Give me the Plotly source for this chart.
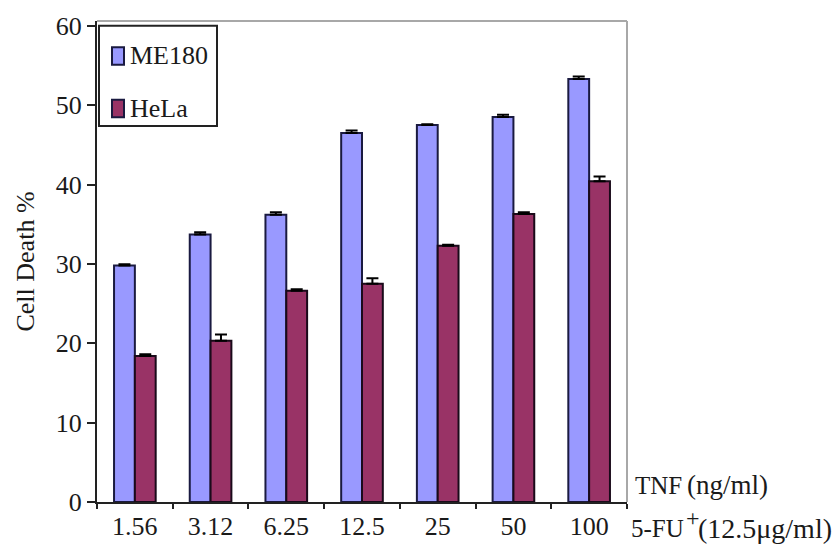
import plotly.graph_objects as go

categories = ["1.56", "3.12", "6.25", "12.5", "25", "50", "100"]
me180 = [29.8, 33.7, 36.2, 46.5, 47.5, 48.5, 53.3]
me180_err = [0.15, 0.3, 0.3, 0.3, 0.1, 0.3, 0.3]
hela = [18.4, 20.3, 26.6, 27.5, 32.3, 36.3, 40.4]
hela_err = [0.2, 0.8, 0.2, 0.7, 0.1, 0.2, 0.6]
y_ticks = [0, 10, 20, 30, 40, 50, 60]
series_names = ["ME180", "HeLa"]
series_colors = ["#9999FF", "#993366"]

FONT = "Liberation Serif, Times New Roman, serif"
TXT = "#1a1a1a"

fig = go.Figure()
fig.add_trace(go.Bar(
    name=series_names[0], x=categories, y=me180,
    marker=dict(color=series_colors[0], line=dict(color="#1a1a40", width=2)),
    error_y=dict(type="data", array=me180_err, arrayminus=[0]*7, symmetric=False,
                 color="black", thickness=2, width=6),
))
fig.add_trace(go.Bar(
    name=series_names[1], x=categories, y=hela,
    marker=dict(color=series_colors[1], line=dict(color="#1a0a1a", width=2)),
    error_y=dict(type="data", array=hela_err, arrayminus=[0]*7, symmetric=False,
                 color="black", thickness=2, width=6),
))

fig.update_layout(
    width=840, height=553,
    margin=dict(l=97, r=213, t=17, b=41),
    paper_bgcolor="white", plot_bgcolor="white",
    font=dict(family=FONT, size=24, color=TXT),
    barmode="group", bargap=0.45, bargroupgap=0,
    showlegend=False,
    xaxis=dict(type="category", showline=True, linecolor="#222", linewidth=2,
               ticks="outside", tickson="boundaries", ticklen=5, tickwidth=2,
               tickcolor="#222", showgrid=False,
               tickfont=dict(family=FONT, size=26, color=TXT)),
    yaxis=dict(range=[0, 60.6], tickvals=y_ticks, showline=True, linecolor="#222",
               linewidth=2, ticks="outside", ticklen=8, tickwidth=2, tickcolor="#222",
               showgrid=False, zeroline=False,
               tickfont=dict(family=FONT, size=26, color=TXT),
               title=dict(text="Cell Death %", font=dict(family=FONT, size=26, color=TXT),
                          standoff=14)),
)

# gray frame top and right
fig.add_shape(type="line", xref="paper", yref="paper", x0=0, x1=1, y0=1, y1=1,
              line=dict(color="#a8a8a8", width=2))
fig.add_shape(type="line", xref="paper", yref="paper", x0=1, x1=1, y0=0, y1=1,
              line=dict(color="#a8a8a8", width=2))

def px_x(px):
    return (px - 97) / 530.0

def px_y(py):
    return (512 - py) / 495.0

# legend box (drawn manually to match the reference layout)
fig.add_shape(type="rect", xref="paper", yref="paper",
              x0=px_x(99), x1=px_x(217), y0=px_y(125), y1=px_y(22),
              line=dict(color="#222", width=2), fillcolor="white")
leg_rows = [53, 107]
for name, col, cy in zip(series_names, series_colors, leg_rows):
    fig.add_shape(type="rect", xref="paper", yref="paper",
                  x0=px_x(112), x1=px_x(124), y0=px_y(cy + 9), y1=px_y(cy - 9),
                  line=dict(color="#1a1a40", width=2), fillcolor=col)
    fig.add_annotation(text=name, xref="paper", yref="paper", x=px_x(128), y=px_y(cy),
                       xanchor="left", yanchor="middle", showarrow=False,
                       font=dict(family=FONT, size=26, color=TXT))

ann = [
    ("TNF", 633, 495, 25),
    ("(ng/ml)", 685, 495, 27),
    ("+", 684, 528, 24),
    ("5-FU", 629, 539, 25),
    ("(12.5μg/ml)", 696, 539, 28),
]
for txt, ax, ay, fs in ann:
    fig.add_annotation(text=txt, xref="paper", yref="paper", x=px_x(ax), y=px_y(ay),
                       xanchor="left", yanchor="middle", showarrow=False,
                       font=dict(family=FONT, size=fs, color=TXT))

fig.write_html("out.html")
